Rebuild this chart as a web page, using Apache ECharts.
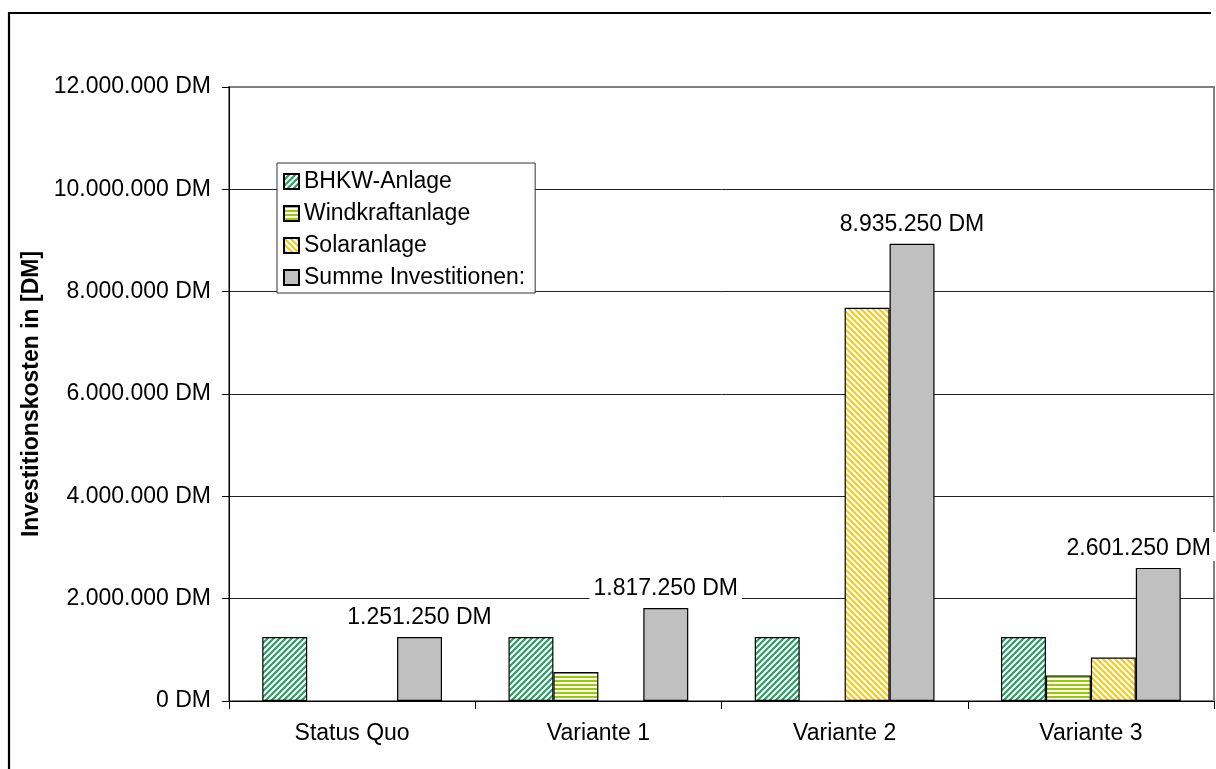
<!DOCTYPE html>
<html>
<head>
<meta charset="utf-8">
<script src="https://cdn.jsdelivr.net/npm/echarts@6/dist/echarts.min.js"></script>
<style>
  html, body { margin: 0; padding: 0; background: #fff; }
  #chart { width: 1216px; height: 769px; }
</style>
</head>
<body>
<div id="chart"></div>
<script>
// Investitionskosten je Variante (DM)
const categories = ['Status Quo', 'Variante 1', 'Variante 2', 'Variante 3'];
const seriesNames = ['BHKW-Anlage', 'Windkraftanlage', 'Solaranlage', 'Summe Investitionen:'];
const bhkw  = [1251250, 1251250, 1251250, 1251250];
const wind  = [null, 566000, null, 500000];
const solar = [null, null, 7684000, 850000];
const total = [1251250, 1817250, 8935250, 2601250];
const yTicks = { min: 0, max: 12000000, interval: 2000000 };

const FONT = '"Liberation Sans", Arial, sans-serif';

// Formats 1251250 -> "1.251.250 DM"
function dm(v) {
  return String(Math.round(v)).replace(/\B(?=(\d{3})+(?!\d))/g, '.') + ' DM';
}

// Hatch fills built on small canvases
function hatch(kind, color) {
  const s = kind === 'h' ? 4 : 6;
  const c = document.createElement('canvas');
  c.width = s; c.height = s;
  const ctx = c.getContext('2d');
  ctx.fillStyle = '#ffffff';
  ctx.fillRect(0, 0, s, s);
  ctx.strokeStyle = color;
  ctx.fillStyle = color;
  if (kind === 'h') {
    ctx.fillRect(0, 0, s, 2);
  } else {
    ctx.lineWidth = 2.2;
    ctx.beginPath();
    if (kind === '/') {
      ctx.moveTo(-1, 1); ctx.lineTo(1, -1);
      ctx.moveTo(0, s); ctx.lineTo(s, 0);
      ctx.moveTo(s - 1, s + 1); ctx.lineTo(s + 1, s - 1);
    } else {
      ctx.moveTo(-1, s - 1); ctx.lineTo(1, s + 1);
      ctx.moveTo(0, 0); ctx.lineTo(s, s);
      ctx.moveTo(s - 1, -1); ctx.lineTo(s + 1, 1);
    }
    ctx.stroke();
  }
  return { image: c, repeat: 'repeat' };
}

const fills = [
  hatch('/', '#339966'),
  hatch('h', '#99CC00'),
  hatch('\\', '#FFCC00'),
  '#C0C0C0'
];
const values = [bhkw, wind, solar, total];

const chart = echarts.init(document.getElementById('chart'), null, { renderer: 'canvas' });

const series = values.map((arr, i) => {
  const s = {
    name: seriesNames[i],
    type: 'bar',
    data: arr,
    barGap: '0%',
    barCategoryGap: '27%',
    itemStyle: { color: fills[i], borderColor: '#000', borderWidth: 1.2 }
  };
  if (i === 3) {
    s.label = {
      show: true,
      position: 'top',
      distance: 7,
      formatter: p => dm(p.value),
      fontFamily: FONT,
      fontSize: 23,
      color: '#000',
      backgroundColor: '#fff',
      padding: [5, 4, 1, 4]
    };
    // keep labels inside the chart's right edge
    s.labelLayout = function (p) {
      const r = p.labelRect;
      const limit = chart.getWidth() - 1;
      if (r.x + r.width > limit) return { dx: limit - (r.x + r.width) };
      return {};
    };
  }
  return s;
});

chart.setOption({
  animation: false,
  backgroundColor: '#fff',
  textStyle: { fontFamily: FONT },
  graphic: [{
    type: 'polyline',
    shape: { points: [[9, 780], [9, 13], [1211, 13]] },
    style: { stroke: '#000', lineWidth: 2.2, fill: null },
    z: 100
  }],
  grid: {
    left: 229, right: 2, top: 87, bottom: 68,
    show: true, borderColor: '#808080', borderWidth: 2, backgroundColor: 'transparent'
  },
  legend: {
    orient: 'vertical',
    left: 277, top: 163,
    data: seriesNames,
    icon: 'rect',
    itemWidth: 15, itemHeight: 15,
    itemGap: 9,
    padding: [7, 10, 4, 6],
    borderColor: '#333', borderWidth: 1,
    backgroundColor: '#fff',
    textStyle: { fontFamily: FONT, fontSize: 23, color: '#000' },
    selectedMode: false
  },
  xAxis: {
    type: 'category',
    data: categories,
    axisLine: { lineStyle: { color: '#000', width: 1 } },
    axisTick: { show: true, length: 8, lineStyle: { color: '#000' } },
    axisLabel: { fontFamily: FONT, fontSize: 23, color: '#000', margin: 21 }
  },
  yAxis: {
    type: 'value',
    min: yTicks.min, max: yTicks.max, interval: yTicks.interval,
    name: 'Investitionskosten in [DM]',
    nameLocation: 'middle',
    nameRotate: 90,
    nameGap: 170,
    nameTextStyle: { fontFamily: FONT, fontSize: 23, fontWeight: 'bold', color: '#000' },
    axisLine: { show: true, lineStyle: { color: '#000', width: 1 } },
    axisTick: { show: true, length: 7, lineStyle: { color: '#000' } },
    axisLabel: { fontFamily: FONT, fontSize: 23, color: '#000', margin: 18, formatter: v => dm(v) },
    splitLine: { show: true, showMaxLine: false, lineStyle: { color: '#222', width: 1 } }
  },
  series: series
});
</script>
</body>
</html>
